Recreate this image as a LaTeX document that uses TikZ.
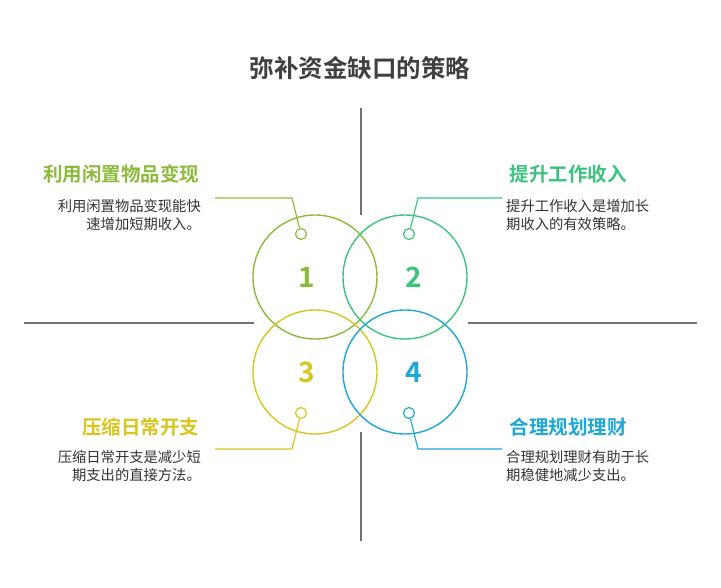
\documentclass[tikz,border=0pt]{standalone}
\usepackage{fontspec}
\newfontfamily\cjk{Noto Sans CJK SC}
\newfontfamily\cjkb{Noto Sans CJK SC Bold}
\begin{document}
\begin{tikzpicture}[x=1pt,y=-1pt,
  big/.style={line width=1.4pt},
  dot/.style={circle,draw,line width=1.2pt,fill=white,minimum size=11pt,inner sep=0pt},
  lead/.style={line width=1.2pt},
  ttl/.style={font=\cjkb\fontsize{19.5}{22}\selectfont},
  body/.style={font=\cjk\fontsize{14.3}{18.5}\selectfont,text=black!80,align=#1,inner sep=0pt},
  num/.style={font=\cjkb\fontsize{28}{30}\selectfont},
  sep/.style={draw=black!55,line width=1.2pt}]
\definecolor{cA}{HTML}{8DBA3B}
\definecolor{cB}{HTML}{3CC47F}
\definecolor{cC}{HTML}{D6C61E}
\definecolor{cD}{HTML}{1FA7D6}
\useasboundingbox (0,0) rectangle (721,588);
\node[font=\cjkb\fontsize{24.5}{26}\selectfont,text=black!75] (t) at (360,68) {弥补资金缺口的策略};
\coordinate (v1) at (361,108); \coordinate (v2) at (361,215);
\coordinate (v3) at (361,432); \coordinate (v4) at (361,541);
\coordinate (h1) at (24,323); \coordinate (h2) at (254,323);
\coordinate (h3) at (468,323); \coordinate (h4) at (697,323);
\draw[sep] (v1)--(v2) (v3)--(v4) (h1)--(h2) (h3)--(h4);
\node[big,draw=cA,circle,minimum size=124pt] (c1) at (315,277) {};
\node[big,draw=cB,circle,minimum size=124pt] (c2) at (405,277) {};
\node[big,draw=cC,circle,minimum size=124pt] (c3) at (315,372) {};
\node[big,draw=cD,circle,minimum size=124pt] (c4) at (405,372) {};
\node[num,text=cA] at (307,277) {1};
\node[num,text=cB] at (414,277) {2};
\node[num,text=cC] at (307,372) {3};
\node[num,text=cD] at (414,372) {4};
\node[dot,draw=cA] (d1) at (301,234) {};
\node[dot,draw=cB] (d2) at (409,234) {};
\node[dot,draw=cC] (d3) at (301,413) {};
\node[dot,draw=cD] (d4) at (409,413) {};
\coordinate (k1) at (292,198); \coordinate (e1) at (215,198);
\coordinate (k2) at (418,198); \coordinate (e2) at (502,198);
\coordinate (k3) at (292,449); \coordinate (e3) at (215,449);
\coordinate (k4) at (418,449); \coordinate (e4) at (502,449);
\draw[lead,cA] (d1)--(k1)--(e1);
\draw[lead,cB] (d2)--(k2)--(e2);
\draw[lead,cC] (d3)--(k3)--(e3);
\draw[lead,cD] (d4)--(k4)--(e4);
\node[ttl,text=cA,anchor=east] (n1) at (203,174) {利用闲置物品变现};
\node[body=right,anchor=north east] (b1) at (201,199) {利用闲置物品变现能快\\速增加短期收入。};
\node[ttl,text=cB,anchor=west] (n2) at (506,174) {提升工作收入};
\node[body=left,anchor=north west] (b2) at (506,199) {提升工作收入是增加长\\期收入的有效策略。};
\node[ttl,text=cC,anchor=east] (n3) at (203,427) {压缩日常开支};
\node[body=right,anchor=north east] (b3) at (201,450) {压缩日常开支是减少短\\期支出的直接方法。};
\node[ttl,text=cD,anchor=west] (n4) at (506,427) {合理规划理财};
\node[body=left,anchor=north west] (b4) at (506,450) {合理规划理财有助于长\\期稳健地减少支出。};
\end{tikzpicture}
\end{document}
